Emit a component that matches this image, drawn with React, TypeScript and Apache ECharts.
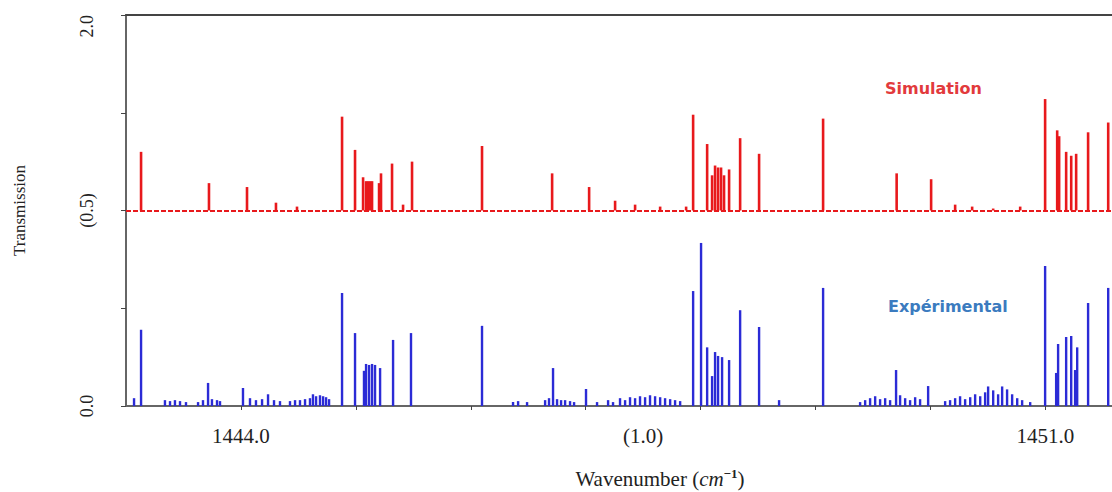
import React, { useEffect, useRef } from "react";
import * as echarts from "echarts";

// Experimental absorption lines (wavenumber, transmission scale)
const EXP_WAVENUMBER = [
  1443.070, 1443.131, 1443.339, 1443.383, 1443.426, 1443.470, 1443.522,
  1443.627, 1443.670, 1443.714, 1443.748, 1443.792, 1443.818,
  1444.018, 1444.079, 1444.131, 1444.184, 1444.236, 1444.288, 1444.340,
  1444.427, 1444.471, 1444.514, 1444.558, 1444.601, 1444.627, 1444.654,
  1444.688, 1444.715, 1444.741, 1444.767,
  1444.880, 1444.993, 1445.071, 1445.089, 1445.115, 1445.141, 1445.167,
  1445.211, 1445.324, 1445.480, 1446.098,
  1446.368, 1446.412, 1446.490, 1446.647, 1446.681, 1446.716, 1446.751,
  1446.786, 1446.821, 1446.864, 1446.899, 1447.003, 1447.099,
  1447.195, 1447.238, 1447.299, 1447.343, 1447.386, 1447.430, 1447.473,
  1447.517, 1447.560, 1447.604, 1447.648, 1447.691, 1447.735, 1447.778,
  1447.822,
  1447.935, 1448.004, 1448.057, 1448.100, 1448.126, 1448.152, 1448.187,
  1448.248, 1448.344, 1448.509, 1448.683, 1449.066,
  1449.388, 1449.432, 1449.475, 1449.519, 1449.562, 1449.606, 1449.649,
  1449.701, 1449.736, 1449.780, 1449.823, 1449.867, 1449.910, 1449.980,
  1450.128, 1450.171, 1450.215, 1450.258, 1450.302, 1450.346, 1450.389,
  1450.433, 1450.476, 1450.502, 1450.546, 1450.589, 1450.624, 1450.667,
  1450.711, 1450.755, 1450.798, 1450.868,
  1450.998, 1451.094, 1451.111, 1451.181, 1451.225, 1451.259, 1451.277,
  1451.372, 1451.547,
];
const EXP_TRANSMISSION = [
  0.04, 0.39, 0.03, 0.025, 0.03, 0.025, 0.02,
  0.02, 0.03, 0.118, 0.035, 0.03, 0.025,
  0.092, 0.04, 0.03, 0.035, 0.06, 0.03, 0.025,
  0.025, 0.03, 0.03, 0.035, 0.04, 0.06, 0.05,
  0.055, 0.05, 0.045, 0.035,
  0.578, 0.373, 0.18, 0.215, 0.21, 0.215, 0.21,
  0.194, 0.338, 0.373, 0.41,
  0.02, 0.025, 0.02, 0.03, 0.04, 0.194, 0.035,
  0.03, 0.03, 0.025, 0.02, 0.087, 0.02,
  0.03, 0.02, 0.04, 0.03, 0.045, 0.04, 0.05,
  0.045, 0.055, 0.05, 0.045, 0.04, 0.035, 0.03,
  0.025,
  0.588, 0.834, 0.30, 0.153, 0.276, 0.256, 0.25,
  0.235, 0.49, 0.404, 0.03, 0.604,
  0.02, 0.03, 0.04, 0.05, 0.035, 0.04, 0.03,
  0.184, 0.055, 0.04, 0.03, 0.045, 0.035, 0.102,
  0.025, 0.03, 0.04, 0.05, 0.035, 0.045, 0.06,
  0.05, 0.07, 0.1, 0.08, 0.06, 0.1, 0.085,
  0.06, 0.04, 0.03, 0.02,
  0.716, 0.169, 0.317, 0.353, 0.358, 0.184, 0.30,
  0.527, 0.604,
];

// Simulated lines, drawn upward from the shifted baseline
const SIM_BASELINE = 1.0;
const SIM_WAVENUMBER = [
  1443.131, 1443.722, 1444.053, 1444.305, 1444.488,
  1444.880, 1444.993, 1445.063, 1445.089, 1445.106, 1445.124, 1445.141,
  1445.202, 1445.219, 1445.315, 1445.411, 1445.489, 1446.098,
  1446.708, 1447.030, 1447.256, 1447.430, 1447.648, 1447.874,
  1447.935, 1448.057, 1448.100, 1448.126, 1448.152, 1448.178, 1448.204,
  1448.248, 1448.344, 1448.509, 1449.066,
  1449.706, 1450.006, 1450.215, 1450.363, 1450.546, 1450.781,
  1450.998, 1451.103, 1451.120, 1451.181, 1451.225, 1451.268, 1451.372,
  1451.547,
];
const SIM_TRANSMISSION = [
  1.30, 1.14, 1.12, 1.04, 1.02,
  1.48, 1.31, 1.17, 1.15, 1.15, 1.15, 1.15,
  1.14, 1.19, 1.24, 1.03, 1.25, 1.33,
  1.19, 1.12, 1.05, 1.03, 1.02, 1.02,
  1.49, 1.34, 1.18, 1.23, 1.22, 1.22, 1.18,
  1.21, 1.37, 1.29, 1.47,
  1.19, 1.16, 1.03, 1.02, 1.01, 1.02,
  1.57, 1.41, 1.38, 1.30, 1.28, 1.29, 1.40,
  1.45,
];

// Axis ticks and labels
const X_MIN = 1443.0;
const X_MAX = 1451.58;
const X_TICKS = [1444, 1445, 1446, 1447, 1448, 1449, 1450, 1451];
const X_LABEL_VALUES = [1444, 1447.5, 1451];
const X_LABEL_TEXTS = ["1444.0", "(1.0)", "1451.0"];
const Y_LABEL_VALUES = [0, 1, 2];
const Y_LABEL_TEXTS = ["0.0", "(0.5)", "2.0"];

const SERIF = "'Liberation Serif', 'DejaVu Serif', serif";
const SANS = "'DejaVu Sans', sans-serif";

function stickRenderer(base: number, width: number, color: string) {
  return (_params: any, api: any) => {
    const x = api.value(0);
    const y = api.value(1);
    const top = api.coord([x, y]);
    const bottom = api.coord([x, base]);
    return {
      type: "rect",
      shape: {
        x: top[0] - width / 2,
        y: top[1],
        width,
        height: bottom[1] - top[1],
      },
      style: { fill: color },
    };
  };
}

export default function App() {
  const ref = useRef<HTMLDivElement>(null);

  useEffect(() => {
    if (!ref.current) return;
    const chart = echarts.init(ref.current, null, { renderer: "svg" });

    const expData = EXP_WAVENUMBER.map((w, i) => [w, EXP_TRANSMISSION[i]]);
    const simData = SIM_WAVENUMBER.map((w, i) => [w, SIM_TRANSMISSION[i]]);

    chart.setOption({
      animation: false,
      backgroundColor: "#ffffff",
      grid: { left: 126, top: 15, right: 0, bottom: 86 },
      xAxis: [
        {
          type: "value",
          min: X_MIN,
          max: X_MAX,
          offset: 3,
          axisLine: { show: true, lineStyle: { color: "#666", width: 2 } },
          axisTick: {
            show: true,
            customValues: X_TICKS,
            length: 4,
            lineStyle: { color: "#444", width: 1 },
          },
          axisLabel: {
            customValues: X_LABEL_VALUES,
            margin: 16,
            fontFamily: SERIF,
            fontSize: 21,
            color: "#222",
            formatter: (v: number) => {
              const i = X_LABEL_VALUES.findIndex((x) => Math.abs(x - v) < 1e-6);
              return i >= 0 ? X_LABEL_TEXTS[i] : "";
            },
          },
          splitLine: { show: false },
        },
        {
          type: "value",
          position: "top",
          min: X_MIN,
          max: X_MAX,
          axisLine: { show: true, onZero: false, lineStyle: { color: "#444", width: 2 } },
          axisTick: { show: false },
          axisLabel: { show: false },
          splitLine: { show: false },
        },
      ],
      yAxis: {
        type: "value",
        min: 0,
        max: 2,
        interval: 0.5,
        name: "Transmission",
        nameLocation: "middle",
        nameGap: 98,
        nameTextStyle: { fontFamily: SERIF, fontSize: 17, color: "#222" },
        axisLine: { show: true, lineStyle: { color: "#666", width: 2 } },
        axisTick: { show: true, length: 5, lineStyle: { color: "#444", width: 1 } },
        axisLabel: {
          rotate: 90,
          margin: 30,
          fontFamily: SERIF,
          fontSize: 18,
          color: "#222",
          alignMaxLabel: "right",
          formatter: (v: number) => {
            const i = Y_LABEL_VALUES.findIndex((y) => Math.abs(y - v) < 1e-6);
            return i >= 0 ? Y_LABEL_TEXTS[i] : "";
          },
        },
        splitLine: { show: false },
      },
      series: [
        {
          type: "custom",
          name: "Simulation",
          renderItem: stickRenderer(SIM_BASELINE, 2.6, "#e8191c"),
          encode: { x: 0, y: 1 },
          data: simData,
          silent: true,
          markLine: {
            silent: true,
            symbol: "none",
            label: { show: false },
            lineStyle: { color: "#e8191c", width: 2, type: [5, 2] },
            data: [{ yAxis: SIM_BASELINE }],
          },
          z: 3,
        },
        {
          type: "custom",
          name: "Expérimental",
          renderItem: stickRenderer(0, 2.4, "#2b2bd6"),
          encode: { x: 0, y: 1 },
          data: expData,
          silent: true,
          z: 2,
        },
      ],
      graphic: [
        {
          type: "text",
          left: 885,
          top: 80,
          style: {
            text: "Simulation",
            font: `bold 16px ${SANS}`,
            fill: "#e23a3c",
          },
        },
        {
          type: "text",
          left: 888,
          top: 298,
          style: {
            text: "Expérimental",
            font: `bold 16px ${SANS}`,
            fill: "#3b7bbf",
          },
        },
        {
          type: "text",
          x: 660,
          y: 479,
          style: {
            text: "Wavenumber ({i|cm}{s|−1})",
            fontFamily: SERIF,
            fontSize: 21,
            fill: "#222",
            align: "center",
            verticalAlign: "middle",
            rich: {
              i: { fontFamily: SERIF, fontSize: 21, fontStyle: "italic", fill: "#222" },
              s: { fontFamily: SERIF, fontSize: 13, fontWeight: "bold", fill: "#222", padding: [0, 0, 12, 0] },
            },
          },
        },
      ],
    });

    return () => chart.dispose();
  }, []);

  return (
    <div
      ref={ref}
      style={{ position: "absolute", left: 0, top: 0, width: 1112, height: 492 }}
    />
  );
}
